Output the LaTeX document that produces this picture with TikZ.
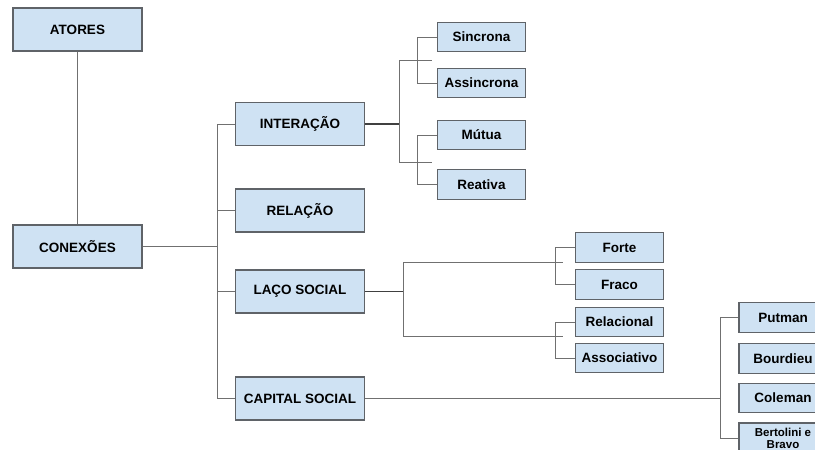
\documentclass[tikz,border=0pt]{standalone}
\usepackage{fontspec}
\setmainfont{Liberation Sans}
\usepackage{tikz}

\definecolor{boxfill}{HTML}{CFE2F3}
\definecolor{boxline}{HTML}{5F6368}
\definecolor{wire}{HTML}{707070}

\begin{document}
\begin{tikzpicture}[x=1pt, y=-1pt,
  bigbox/.style={draw=boxline, line width=1.2pt, fill=boxfill, inner sep=0pt,
    minimum width=129pt, minimum height=43pt, font=\fontsize{13.5}{15}\selectfont\bfseries},
  smallbox/.style={draw=boxline, line width=1.2pt, fill=boxfill, inner sep=0pt,
    minimum width=88pt, minimum height=29.5pt, font=\fontsize{13.5}{15}\selectfont\bfseries},
  link/.style={draw=wire, line width=1pt},
  boldlink/.style={draw=black!75, line width=1.6pt}]

\useasboundingbox (0,0) rectangle (815,450);

\node[bigbox] (atores) at (77.5,29.5) {ATORES};
\node[bigbox] (conexoes) at (77.5,246.5) {CONEXÕES};

\node[bigbox] (interacao) at (300,124) {INTERAÇÃO};
\node[bigbox] (relacao) at (300,210.5) {RELAÇÃO};
\node[bigbox] (laco) at (300,291.5) {LAÇO SOCIAL};
\node[bigbox] (capital) at (300,398.5) {CAPITAL SOCIAL};

\node[smallbox] (sincrona) at (481.5,37) {Sincrona};
\node[smallbox] (assincrona) at (481.5,83) {Assincrona};
\node[smallbox] (mutua) at (481.5,135) {Mútua};
\node[smallbox] (reativa) at (481.5,184.5) {Reativa};

\node[smallbox] (forte) at (619.5,247.5) {Forte};
\node[smallbox] (fraco) at (619.5,284.5) {Fraco};
\node[smallbox] (relacional) at (619.5,322) {Relacional};
\node[smallbox] (associativo) at (619.5,358) {Associativo};

\node[smallbox] (putman) at (783,317.5) {Putman};
\node[smallbox] (bourdieu) at (783,358.5) {Bourdieu};
\node[smallbox] (coleman) at (783,398) {Coleman};
\node[smallbox, minimum height=31pt, align=center,
  font=\fontsize{11.5}{12.5}\selectfont\bfseries] (bertolini) at (783,438.5) {Bertolini e\\Bravo};

% branch points
\coordinate (t1) at (217,124);
\coordinate (t4) at (217,398.5);
\coordinate (ia) at (399,60);
\coordinate (ib) at (399,162);
\coordinate (la) at (403,262);
\coordinate (lb) at (403,336);
\coordinate (ca) at (721,398.5);

\draw[link] (atores) -- (conexoes);
\draw[link] (conexoes.east) -- (conexoes -| t1);
\draw[link] (interacao.west) -| (t4) -- (capital.west);
\draw[link] (relacao.west) -- (relacao -| t1);
\draw[link] (laco.west) -- (laco -| t1);

%interacao
\draw[boldlink] (interacao.east) -- (interacao -| ia);
\draw[link] (ia) -- (ib);
\draw[link] (ia) -- ++(33,0);
\draw[link] (ib) -- ++(33,0);
\draw[link] (sincrona.west) -- ++(-19,0) |- (assincrona.west);
\draw[link] (mutua.west) -- ++(-19,0) |- (reativa.west);

%laco social
\draw[boldlink] (laco.east) -- (laco -| la);
\draw[link] (la) -- (lb);
\draw[link] (la) -- ++(160,0);
\draw[link] (lb) -- ++(160,0);
\draw[link] (forte.west) -- ++(-19,0) |- (fraco.west);
\draw[link] (relacional.west) -- ++(-19,0) |- (associativo.west);

%capital social
\draw[link] (capital.east) -- (ca);
\draw[link] (putman.west) -- ++(-18,0) |- (bertolini.west);

\end{tikzpicture}
\end{document}
